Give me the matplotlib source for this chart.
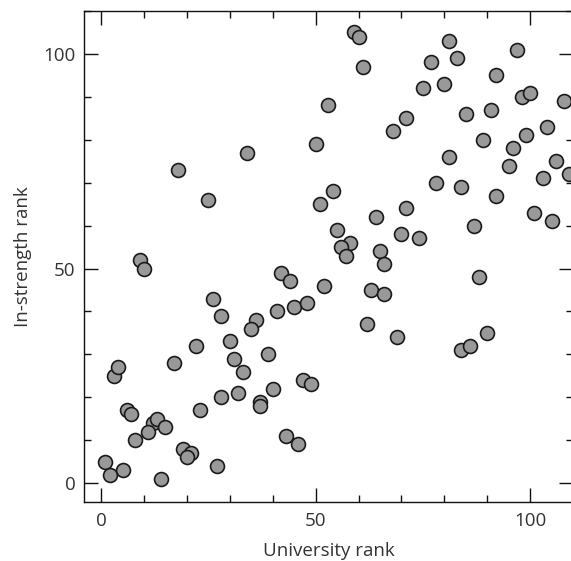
import matplotlib
matplotlib.use("Agg")
import matplotlib.pyplot as plt
from matplotlib.ticker import MultipleLocator

# university rank vs in-strength rank
univ_rank = [18, 34, 25, 9, 10, 42, 44, 59, 60, 61, 53, 50, 81, 77, 83, 75, 80,
             97, 92, 98, 100, 108, 71, 68, 85, 91, 104, 99, 89, 96, 81, 95, 106,
             109, 103, 78, 84, 92, 101, 105, 87, 54, 51, 64, 71, 55, 58, 56, 57,
             70, 74, 65, 66, 88, 26, 28, 36, 35, 41, 45, 22, 30, 31, 39, 33, 17,
             3, 4, 6, 7, 12, 13, 11, 15, 8, 19, 21, 20, 23, 28, 32, 37, 37, 40,
             27, 14, 1, 2, 5, 43, 46, 52, 63, 66, 48, 62, 69, 84, 86, 90, 47, 49]
strength_rank = [73, 77, 66, 52, 50, 49, 47, 105, 104, 97, 88, 79, 103, 98, 99,
                 92, 93, 101, 95, 90, 91, 89, 85, 82, 86, 87, 83, 81, 80, 78, 76,
                 74, 75, 72, 71, 70, 69, 67, 63, 61, 60, 68, 65, 62, 64, 59, 56,
                 55, 53, 58, 57, 54, 51, 48, 43, 39, 38, 36, 40, 41, 32, 33, 29,
                 30, 26, 28, 25, 27, 17, 16, 14, 15, 12, 13, 10, 8, 7, 6, 17, 20,
                 21, 19, 18, 22, 4, 1, 5, 2, 3, 11, 9, 46, 45, 44, 42, 37, 34, 31,
                 32, 35, 24, 23]

plt.rcParams['font.family'] = ['Open Sans', 'DejaVu Sans']

fig = plt.figure(figsize=(5.71, 5.61), dpi=100)
ax = fig.add_axes([0.1471, 0.1052, 0.8564, 0.8752])

ax.scatter(univ_rank, strength_rank, s=100, c='#999999', edgecolors='#1a1a1a',
           linewidths=1.2, zorder=3, clip_on=False)

ax.set_xlim(-4, 110)
ax.set_ylim(-4.4, 110)

ax.xaxis.set_major_locator(MultipleLocator(50))
ax.yaxis.set_major_locator(MultipleLocator(50))
ax.xaxis.set_minor_locator(MultipleLocator(10))
ax.yaxis.set_minor_locator(MultipleLocator(10))
ax.tick_params(which='both', direction='in', top=True, right=True,
               color='#111111', width=1.0)
ax.tick_params(which='major', length=10, labelsize=13.5, pad=6)
ax.tick_params(which='minor', length=5)
ax.tick_params(axis='x', which='major', pad=7)

for sp in ax.spines.values():
    sp.set_linewidth(1.0)
    sp.set_color('#111111')

ax.set_xlabel('University rank', fontsize=13.5, color='#333333', labelpad=9)
ax.set_ylabel('In-strength rank', fontsize=13.5, color='#333333', labelpad=8)
ax.tick_params(labelcolor='#333333')

fig.savefig('out.png', dpi=100)
